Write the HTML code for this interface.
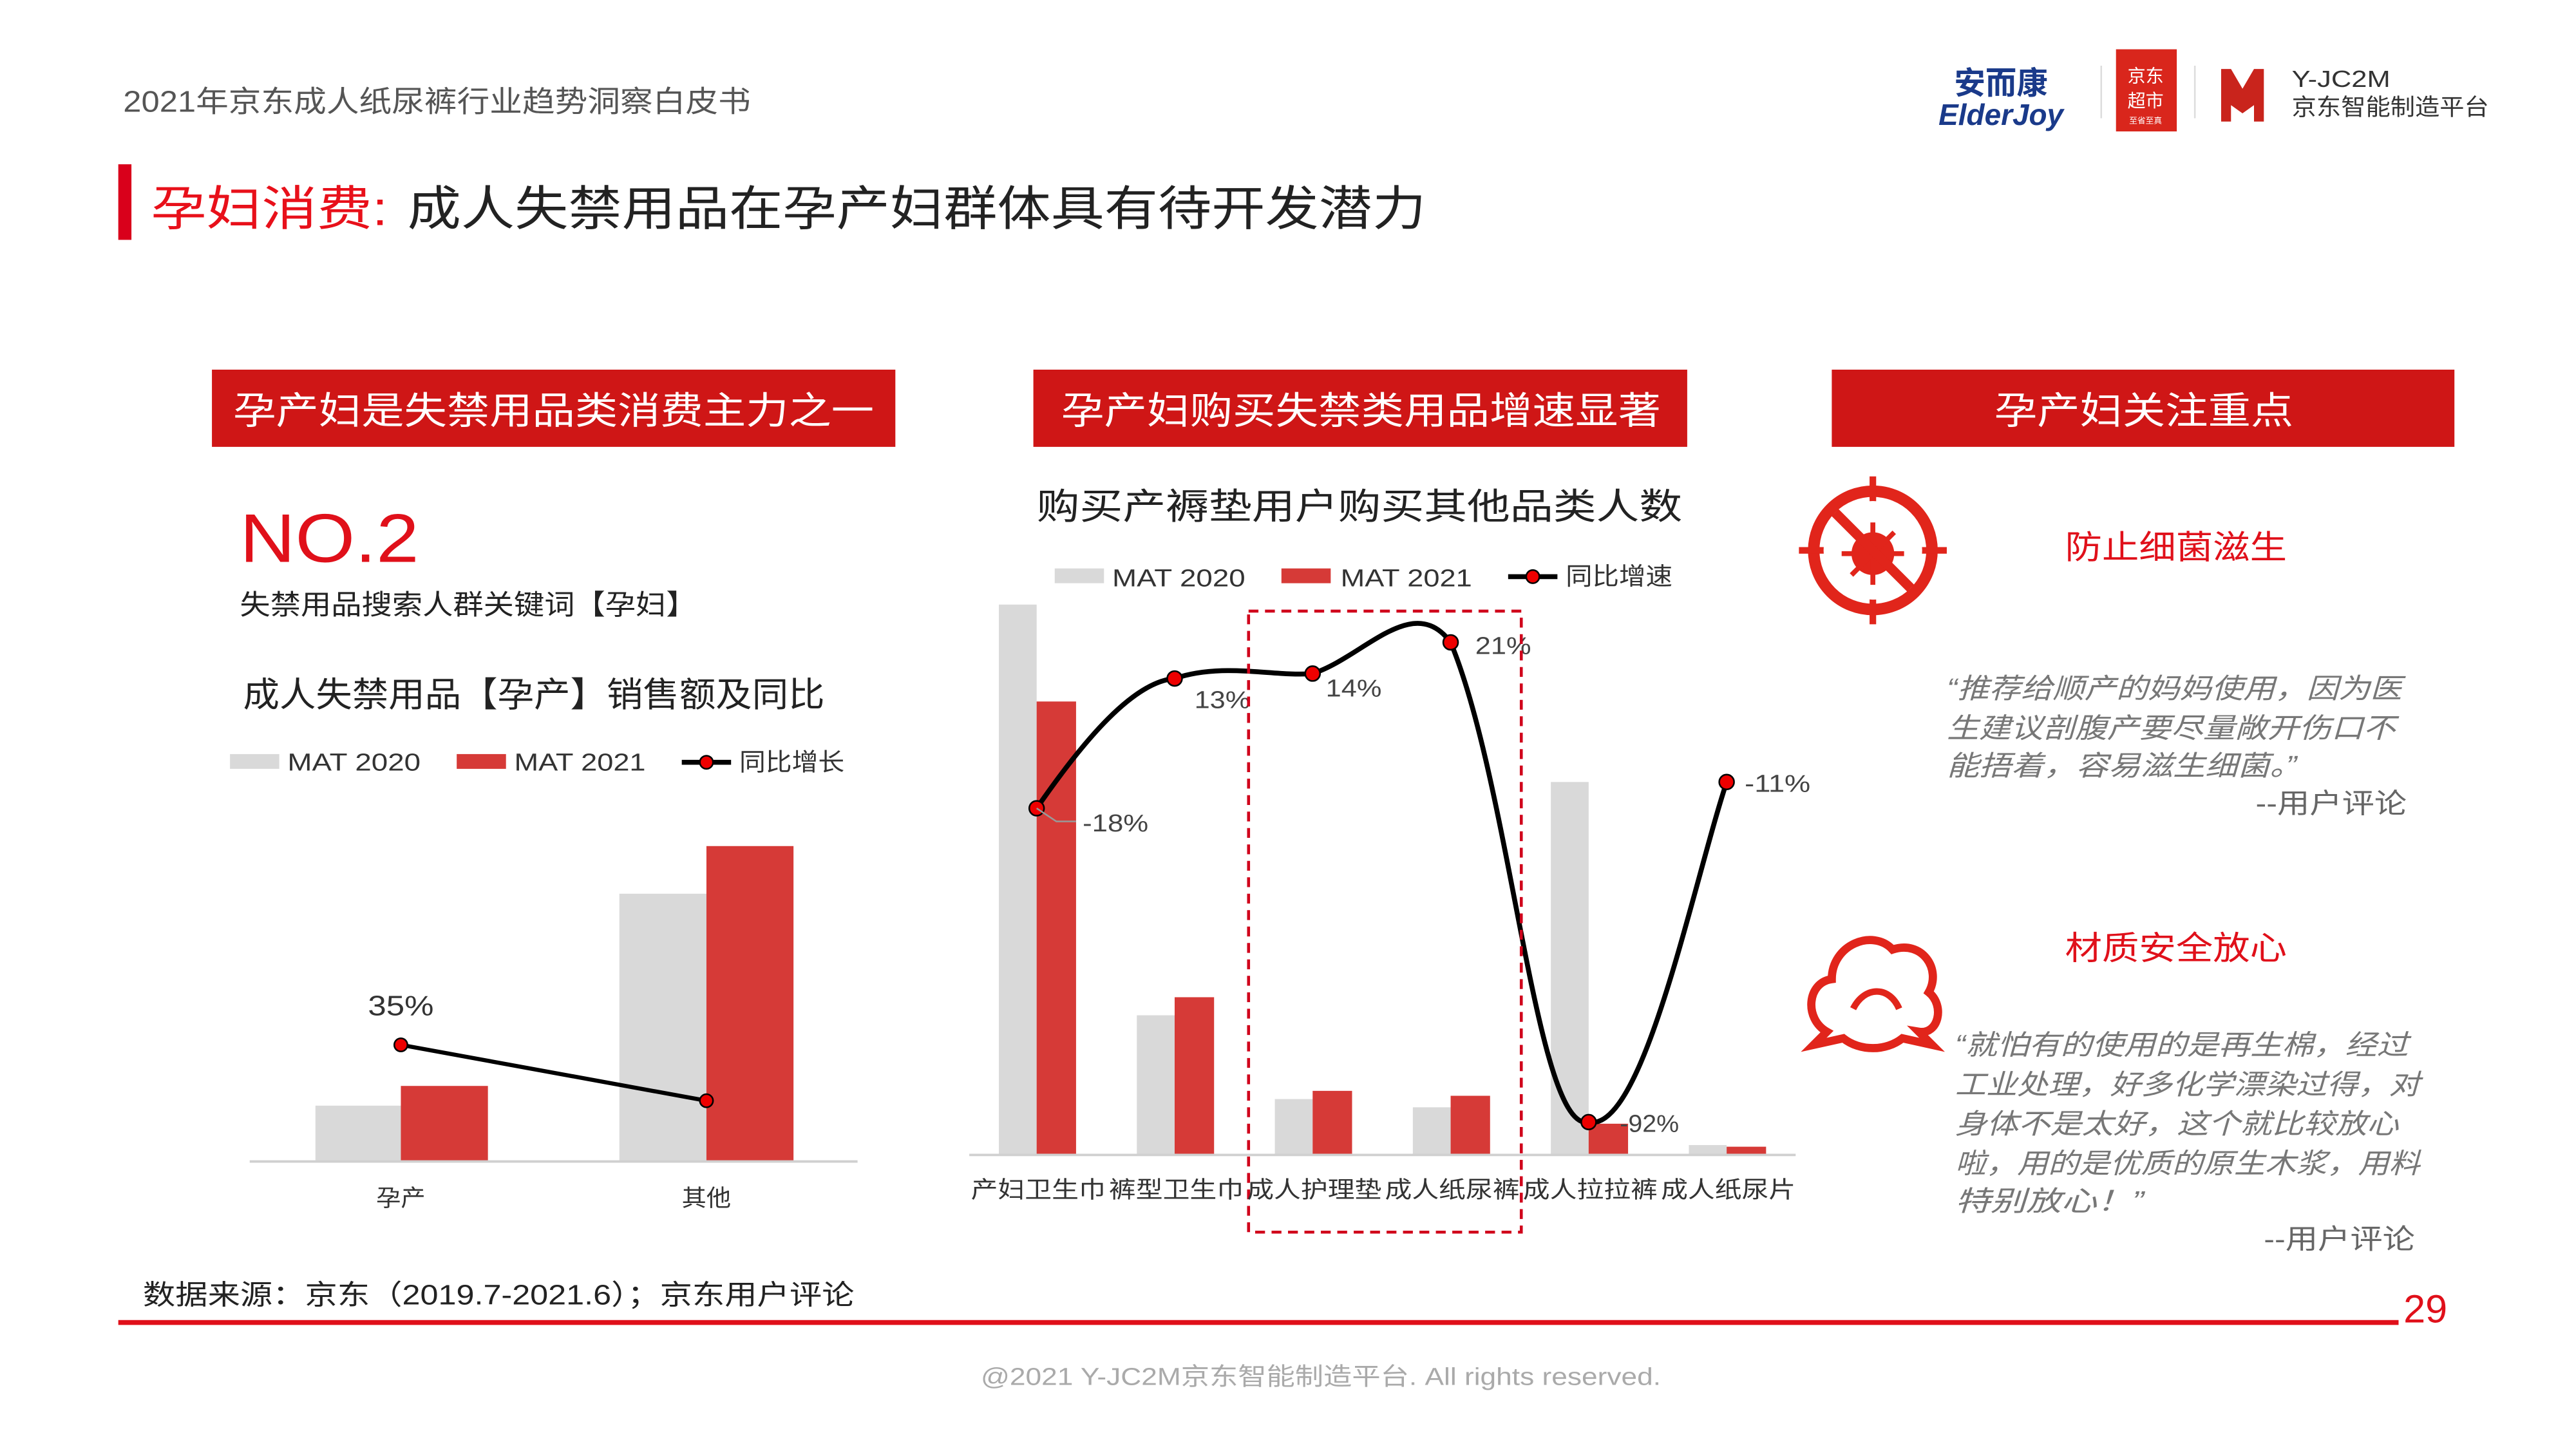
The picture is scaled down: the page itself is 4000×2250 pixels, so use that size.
<!DOCTYPE html>
<html><head><meta charset="utf-8"><style>
html,body{margin:0;padding:0;background:#fff;}
svg{display:block;}
text{font-family:"Liberation Sans","Noto Sans CJK SC",sans-serif;}
</style></head><body>
<svg width="4000" height="2250" viewBox="0 0 1568 882" xmlns="http://www.w3.org/2000/svg">
<rect width="1568" height="882" fill="#fff"/>
<!-- header -->
<text x="75" y="68" font-size="18" fill="#555" textLength="382" lengthAdjust="spacingAndGlyphs">2021年京东成人纸尿裤行业趋势洞察白皮书</text>
<text x="1218" y="57" font-size="19" font-weight="bold" fill="#1a3a8a" text-anchor="middle">安而康</text>
<text x="1218" y="76" font-size="18" font-weight="bold" font-style="italic" fill="#1a3a8a" text-anchor="middle">ElderJoy</text>
<line x1="1279" y1="40" x2="1279" y2="72" stroke="#ddd"/>
<rect x="1288" y="30" width="37" height="50" fill="#d9261c"/>
<text x="1306" y="50" font-size="11" fill="#fff" text-anchor="middle">京东</text>
<text x="1306" y="65" font-size="11" fill="#fff" text-anchor="middle">超市</text>
<text x="1306" y="75" font-size="5" fill="#fff" text-anchor="middle">至省至真</text>
<line x1="1336" y1="40" x2="1336" y2="72" stroke="#ddd"/>
<path d="M1352 42 h6 l7 12 l7 -12 h6 v32 h-6 v-10 l-7 5 l-7 -5 v10 h-6z" fill="#c9241c"/>
<text x="1395" y="53" font-size="14" fill="#333" textLength="60" lengthAdjust="spacingAndGlyphs">Y-JC2M</text>
<text x="1395" y="70" font-size="14" fill="#333" textLength="120" lengthAdjust="spacingAndGlyphs">京东智能制造平台</text>
<!-- title -->
<rect x="72" y="100" width="8" height="46" fill="#d9001b"/>
<text x="92" y="137" font-size="29" fill="#e8101a" textLength="144" lengthAdjust="spacingAndGlyphs">孕妇消费:</text>
<text x="248" y="137" font-size="29" fill="#222" textLength="620" lengthAdjust="spacingAndGlyphs">成人失禁用品在孕产妇群体具有待开发潜力</text>
<!-- section headers -->
<rect x="129" y="225" width="416" height="47" fill="#cf1616"/>
<text x="142" y="258" font-size="23" fill="#fff" textLength="390" lengthAdjust="spacingAndGlyphs">孕产妇是失禁用品类消费主力之一</text>
<rect x="629" y="225" width="398" height="47" fill="#cf1616"/>
<text x="646" y="258" font-size="23" fill="#fff" textLength="365" lengthAdjust="spacingAndGlyphs">孕产妇购买失禁类用品增速显著</text>
<rect x="1115" y="225" width="379" height="47" fill="#cf1616"/>
<text x="1214" y="258" font-size="23" fill="#fff" textLength="182" lengthAdjust="spacingAndGlyphs">孕产妇关注重点</text>
<!-- left panel -->
<text x="146" y="342" font-size="42" fill="#e0101a" textLength="109" lengthAdjust="spacingAndGlyphs">NO.2</text>
<text x="146" y="374" font-size="17" fill="#222" textLength="278" lengthAdjust="spacingAndGlyphs">失禁用品搜索人群关键词【孕妇】</text>
<text x="148" y="430" font-size="21" fill="#222" textLength="354" lengthAdjust="spacingAndGlyphs">成人失禁用品【孕产】销售额及同比</text>
<rect x="140" y="459" width="30" height="9" fill="#d9d9d9"/>
<text x="175" y="469" font-size="15" fill="#333" textLength="81" lengthAdjust="spacingAndGlyphs">MAT 2020</text>
<rect x="278" y="459" width="30" height="9" fill="#d63a37"/>
<text x="313" y="469" font-size="15" fill="#333" textLength="80" lengthAdjust="spacingAndGlyphs">MAT 2021</text>
<line x1="415" y1="464" x2="445" y2="464" stroke="#000" stroke-width="3"/>
<circle cx="430" cy="464" r="4" fill="#e00" stroke="#000"/>
<text x="450" y="469" font-size="15" fill="#333" textLength="64" lengthAdjust="spacingAndGlyphs">同比增长</text>
<rect x="192" y="673" width="52" height="34" fill="#d9d9d9"/>
<rect x="244" y="661" width="53" height="46" fill="#d63a37"/>
<rect x="377" y="544" width="53" height="163" fill="#d9d9d9"/>
<rect x="430" y="515" width="53" height="192" fill="#d63a37"/>
<line x1="152" y1="707" x2="522" y2="707" stroke="#d0d0d0" stroke-width="1.5"/>
<line x1="244" y1="636" x2="430" y2="670" stroke="#000" stroke-width="2.5"/>
<circle cx="244" cy="636" r="4" fill="#e00" stroke="#000"/>
<circle cx="430" cy="670" r="4" fill="#e00" stroke="#000"/>
<text x="224" y="618" font-size="17" fill="#333" textLength="40" lengthAdjust="spacingAndGlyphs">35%</text>
<text x="229" y="734" font-size="14" fill="#333" textLength="30" lengthAdjust="spacingAndGlyphs">孕产</text>
<text x="415" y="734" font-size="14" fill="#333" textLength="30" lengthAdjust="spacingAndGlyphs">其他</text>
<!-- middle chart -->
<text x="631" y="316" font-size="22" fill="#222" textLength="393" lengthAdjust="spacingAndGlyphs">购买产褥垫用户购买其他品类人数</text>
<rect x="642" y="346" width="30" height="9" fill="#d9d9d9"/>
<text x="677" y="357" font-size="15" fill="#333" textLength="81" lengthAdjust="spacingAndGlyphs">MAT 2020</text>
<rect x="780" y="346" width="30" height="9" fill="#d63a37"/>
<text x="816" y="357" font-size="15" fill="#333" textLength="80" lengthAdjust="spacingAndGlyphs">MAT 2021</text>
<line x1="918" y1="351" x2="948" y2="351" stroke="#000" stroke-width="3"/>
<circle cx="933" cy="351" r="4" fill="#e00" stroke="#000"/>
<text x="953" y="356" font-size="15" fill="#333" textLength="65" lengthAdjust="spacingAndGlyphs">同比增速</text>
<g>
<rect x="608" y="368" width="23" height="335" fill="#d9d9d9"/>
<rect x="631" y="427" width="24" height="276" fill="#d63a37"/>
<rect x="692" y="618" width="23" height="85" fill="#d9d9d9"/>
<rect x="715" y="607" width="24" height="96" fill="#d63a37"/>
<rect x="776" y="669" width="23" height="34" fill="#d9d9d9"/>
<rect x="799" y="664" width="24" height="39" fill="#d63a37"/>
<rect x="860" y="674" width="23" height="29" fill="#d9d9d9"/>
<rect x="883" y="667" width="24" height="36" fill="#d63a37"/>
<rect x="944" y="476" width="23" height="227" fill="#d9d9d9"/>
<rect x="967" y="684" width="24" height="19" fill="#d63a37"/>
<rect x="1028" y="697" width="23" height="6" fill="#d9d9d9"/>
<rect x="1051" y="698" width="24" height="5" fill="#d63a37"/>
</g>
<line x1="590" y1="703" x2="1093" y2="703" stroke="#d0d0d0" stroke-width="1.5"/>
<path d="M631 492 C660 450 690 415 715 413 C745 403 775 412 799 410 C830 400 860 360 883 391 C920 480 935 690 967 683 C1000 690 1030 540 1051 476" fill="none" stroke="#000" stroke-width="3"/>
<g fill="#e00" stroke="#000" stroke-width="1">
<circle cx="631" cy="492" r="4.5"/><circle cx="715" cy="413" r="4.5"/><circle cx="799" cy="410" r="4.5"/>
<circle cx="883" cy="391" r="4.5"/><circle cx="967" cy="683" r="4.5"/><circle cx="1051" cy="476" r="4.5"/>
</g>
<polyline points="631,492 643,500 655,500" fill="none" stroke="#999"/>
<g font-size="15" fill="#444">
<text x="659" y="506" textLength="40" lengthAdjust="spacingAndGlyphs">-18%</text>
<text x="727" y="431" textLength="34" lengthAdjust="spacingAndGlyphs">13%</text>
<text x="807" y="424" textLength="34" lengthAdjust="spacingAndGlyphs">14%</text>
<text x="898" y="398" textLength="34" lengthAdjust="spacingAndGlyphs">21%</text>
<text x="986" y="689" textLength="36" lengthAdjust="spacingAndGlyphs">-92%</text>
<text x="1062" y="482" textLength="40" lengthAdjust="spacingAndGlyphs">-11%</text>
</g>
<rect x="760" y="372" width="166" height="378" fill="none" stroke="#d0021b" stroke-width="1.8" stroke-dasharray="6,4"/>
<g font-size="14" fill="#333">
<text x="591" y="729" textLength="82" lengthAdjust="spacingAndGlyphs">产妇卫生巾</text>
<text x="675" y="729" textLength="82" lengthAdjust="spacingAndGlyphs">裤型卫生巾</text>
<text x="759" y="729" textLength="82" lengthAdjust="spacingAndGlyphs">成人护理垫</text>
<text x="843" y="729" textLength="82" lengthAdjust="spacingAndGlyphs">成人纸尿裤</text>
<text x="927" y="729" textLength="82" lengthAdjust="spacingAndGlyphs">成人拉拉裤</text>
<text x="1011" y="729" textLength="82" lengthAdjust="spacingAndGlyphs">成人纸尿片</text>
</g>
<!-- right panel -->
<circle cx="1140" cy="335" r="36" fill="none" stroke="#e1251b" stroke-width="7"/>
<line x1="1140" y1="290" x2="1140" y2="380" stroke="#e1251b" stroke-width="4"/>
<line x1="1095" y1="335" x2="1185" y2="335" stroke="#e1251b" stroke-width="4"/>
<circle cx="1140" cy="335" r="30" fill="#fff"/>
<circle cx="1140" cy="337" r="13" fill="#e1251b"/>
<g stroke="#e1251b" stroke-width="3"><line x1="1140" y1="318" x2="1140" y2="356"/><line x1="1121" y1="337" x2="1159" y2="337"/><line x1="1127" y1="324" x2="1153" y2="350"/><line x1="1153" y1="324" x2="1127" y2="350"/></g>
<line x1="1117" y1="312" x2="1163" y2="358" stroke="#e1251b" stroke-width="6"/>
<text x="1257" y="340" font-size="20" fill="#e0101a" textLength="135" lengthAdjust="spacingAndGlyphs">防止细菌滋生</text>
<g font-size="17" fill="#777" font-style="italic">
<text x="1185" y="425" textLength="277" lengthAdjust="spacingAndGlyphs">“推荐给顺产的妈妈使用，因为医</text>
<text x="1185" y="449" textLength="273" lengthAdjust="spacingAndGlyphs">生建议剖腹产要尽量敞开伤口不</text>
<text x="1185" y="472" textLength="213" lengthAdjust="spacingAndGlyphs">能捂着，容易滋生细菌。”</text>
<text x="1373" y="495" font-style="normal" fill="#666" textLength="92" lengthAdjust="spacingAndGlyphs">--用户评论</text>
</g>
<path d="M1112 628 C1098 620 1100 598 1115 596 C1115 575 1140 565 1152 578 C1170 572 1182 590 1174 604 C1184 612 1180 630 1168 628 L1176 636 L1158 632 C1148 640 1132 640 1122 632 L1104 636 Z" fill="none" stroke="#e1251b" stroke-width="5"/>
<path d="M1128 614 C1135 600 1150 600 1156 614" fill="none" stroke="#e1251b" stroke-width="4"/>
<text x="1257" y="584" font-size="20" fill="#e0101a" textLength="135" lengthAdjust="spacingAndGlyphs">材质安全放心</text>
<g font-size="17" fill="#777" font-style="italic">
<text x="1190" y="642" textLength="276" lengthAdjust="spacingAndGlyphs">“就怕有的使用的是再生棉，经过</text>
<text x="1190" y="666" textLength="283" lengthAdjust="spacingAndGlyphs">工业处理，好多化学漂染过得，对</text>
<text x="1190" y="690" textLength="270" lengthAdjust="spacingAndGlyphs">身体不是太好，这个就比较放心</text>
<text x="1190" y="714" textLength="283" lengthAdjust="spacingAndGlyphs">啦，用的是优质的原生木浆，用料</text>
<text x="1190" y="737" textLength="115" lengthAdjust="spacingAndGlyphs">特别放心！”</text>
<text x="1378" y="760" font-style="normal" fill="#666" textLength="92" lengthAdjust="spacingAndGlyphs">--用户评论</text>
</g>
<!-- footer -->
<text x="87" y="794" font-size="17" fill="#222" textLength="433" lengthAdjust="spacingAndGlyphs">数据来源：京东（2019.7-2021.6）；京东用户评论</text>
<line x1="72" y1="805" x2="1460" y2="805" stroke="#e0101a" stroke-width="3"/>
<text x="1463" y="805" font-size="24" fill="#e0101a">29</text>
<text x="597" y="843" font-size="15" fill="#aaa" textLength="414" lengthAdjust="spacingAndGlyphs">@2021 Y-JC2M京东智能制造平台. All rights reserved.</text>
</svg>
</body></html>
